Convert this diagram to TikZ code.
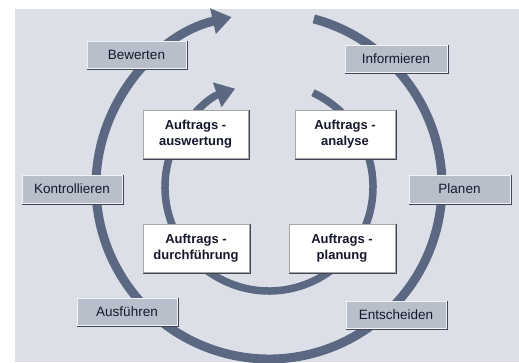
\documentclass[tikz,border=0pt]{standalone}
\usepackage{fontspec}
\setmainfont{Liberation Sans}
\usetikzlibrary{arrows.meta}
\definecolor{bgc}{HTML}{DCDFE7}
\definecolor{arcc}{HTML}{5A6882}
\definecolor{boxc}{HTML}{B9BECB}
\definecolor{shadc}{HTML}{3E4656}
\definecolor{txtc}{HTML}{15182A}
\tikzset{
  outerbox/.style={draw=white!80!boxc, line width=0.8pt, fill=boxc, minimum width=100pt, minimum height=27pt,
    font=\fontsize{13.5}{15}\selectfont, text=txtc, inner sep=0pt,
    append after command={\pgfextra{\draw[shadc, line width=1.4pt] ([xshift=0.7pt]\tikzlastnode.north east) -- ([xshift=0.7pt,yshift=-0.7pt]\tikzlastnode.south east) -- ([yshift=-0.7pt]\tikzlastnode.south west);}}},
  innerbox/.style={draw=black!35, line width=0.8pt, fill=white, minimum width=105pt, minimum height=48pt,
    font=\fontsize{13}{16}\selectfont\bfseries, text=txtc, align=center, inner sep=0pt,
    append after command={\pgfextra{\draw[shadc, line width=1.4pt] ([xshift=0.7pt]\tikzlastnode.north east) -- ([xshift=0.7pt,yshift=-0.7pt]\tikzlastnode.south east) -- ([yshift=-0.7pt]\tikzlastnode.south west);}}},
  cyclearc/.style={draw=arcc, -{Triangle[length=19pt,width=25pt]}}
}
\begin{document}
\begin{tikzpicture}[x=1pt,y=1pt]
\useasboundingbox (0,0) rectangle (519,362);
\fill[bgc] (15,0) rectangle (519,353);
% outer cycle
\coordinate (oc) at (269,176);
\draw[cyclearc, line width=9pt] ([shift={(75:173)}]oc) arc[start angle=75, end angle=-257.5, radius=173];
% inner cycle
\coordinate (ic) at (269,175);
\draw[cyclearc, line width=7.5pt] ([shift={(65:104)}]ic) arc[start angle=65, end angle=-251, radius=104];
% outer boxes
\node[outerbox, minimum width=99pt] (bew) at (136.5,307.5) {Bewerten};
\node[outerbox, minimum width=102pt] (inf) at (396,303.5) {Informieren};
\node[outerbox, minimum height=28pt] (kon) at (72,173) {Kontrollieren};
\node[outerbox, minimum width=101pt, minimum height=28pt] (pla) at (459.5,173) {Planen};
\node[outerbox] (aus) at (127,50.5) {Ausführen};
\node[outerbox] (ent) at (396,47.5) {Entscheiden};
% inner boxes
\node[innerbox] (aw) at (195.5,228) {Auftrags -\\auswertung};
\node[innerbox, minimum width=100pt] (an) at (345,228) {Auftrags -\\analyse};
\node[innerbox, minimum width=106pt] (df) at (196,114) {Auftrags -\\durchführung};
\node[innerbox, minimum width=106pt] (pl) at (342,114) {Auftrags -\\planung};
\end{tikzpicture}
\end{document}
